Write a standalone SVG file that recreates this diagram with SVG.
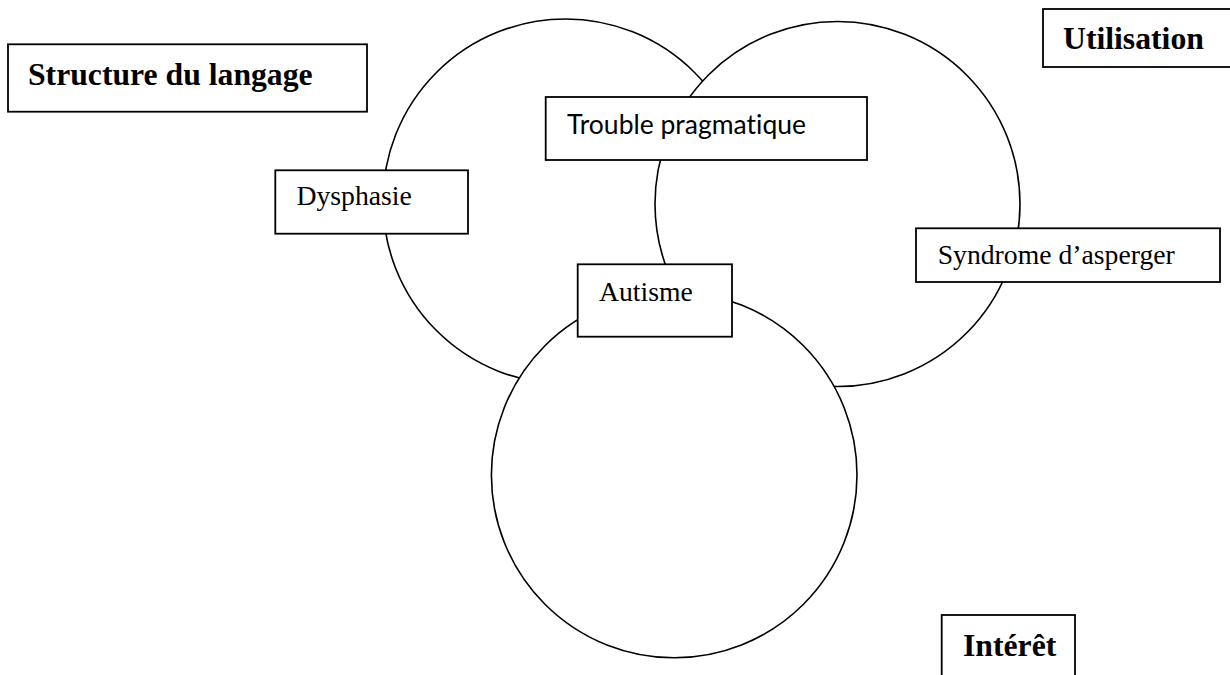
<svg xmlns="http://www.w3.org/2000/svg" width="1230" height="675" viewBox="0 0 1230 675">
<style>
.circ{fill:#fff;stroke:#000;stroke-width:1.6}
.box{fill:#fff;stroke:#000;stroke-width:1.8}
.bold{font-family:"Liberation Serif","Times New Roman",serif;font-weight:bold;font-size:31.7px;fill:#000}
.reg{font-family:"Liberation Serif","Times New Roman",serif;font-size:27.7px;fill:#000}
.sans{font-family:Lato,"Open Sans","Noto Sans",sans-serif;font-size:27px;fill:#000;font-variant-ligatures:none;font-feature-settings:"liga" 0,"clig" 0}
</style>
<rect width="1230" height="675" fill="#fff"/>
<g id="circles">
<circle id="circle-structure" class="circ" cx="565.5" cy="201.5" r="182.5"/>
<circle id="circle-utilisation" class="circ" cx="837.5" cy="204" r="182.5"/>
<circle id="circle-interet" class="circ" cx="674.2" cy="475" r="182.8"/>
</g>
<g id="connectors"></g>
<g id="structure">
<rect class="box" x="8" y="44.3" width="359" height="67.4"/>
<text class="bold" x="28" y="85">Structure du langage</text>
</g>
<g id="utilisation">
<rect class="box" x="1043" y="9" width="195" height="58"/>
<text class="bold" x="1063" y="49">Utilisation</text>
</g>
<g id="interet">
<rect class="box" x="941.7" y="615" width="133.3" height="80"/>
<text class="bold" x="963" y="656">Intérêt</text>
</g>
<g id="trouble">
<rect class="box" x="545.7" y="97" width="321.3" height="63"/>
<text class="sans" x="567" y="134" textLength="239" lengthAdjust="spacingAndGlyphs">Trouble pragmatique</text>
</g>
<g id="dysphasie">
<rect class="box" x="275.3" y="170.3" width="192.7" height="63.4"/>
<text class="reg" x="296.5" y="205">Dysphasie</text>
</g>
<g id="asperger">
<rect class="box" x="916" y="228.3" width="304" height="53.7"/>
<text class="reg" x="937.7" y="264">Syndrome d’asperger</text>
</g>
<g id="autisme">
<rect class="box" x="577.7" y="264.3" width="154.3" height="72.4"/>
<text class="reg" x="599" y="300.7">Autisme</text>
</g>
</svg>
